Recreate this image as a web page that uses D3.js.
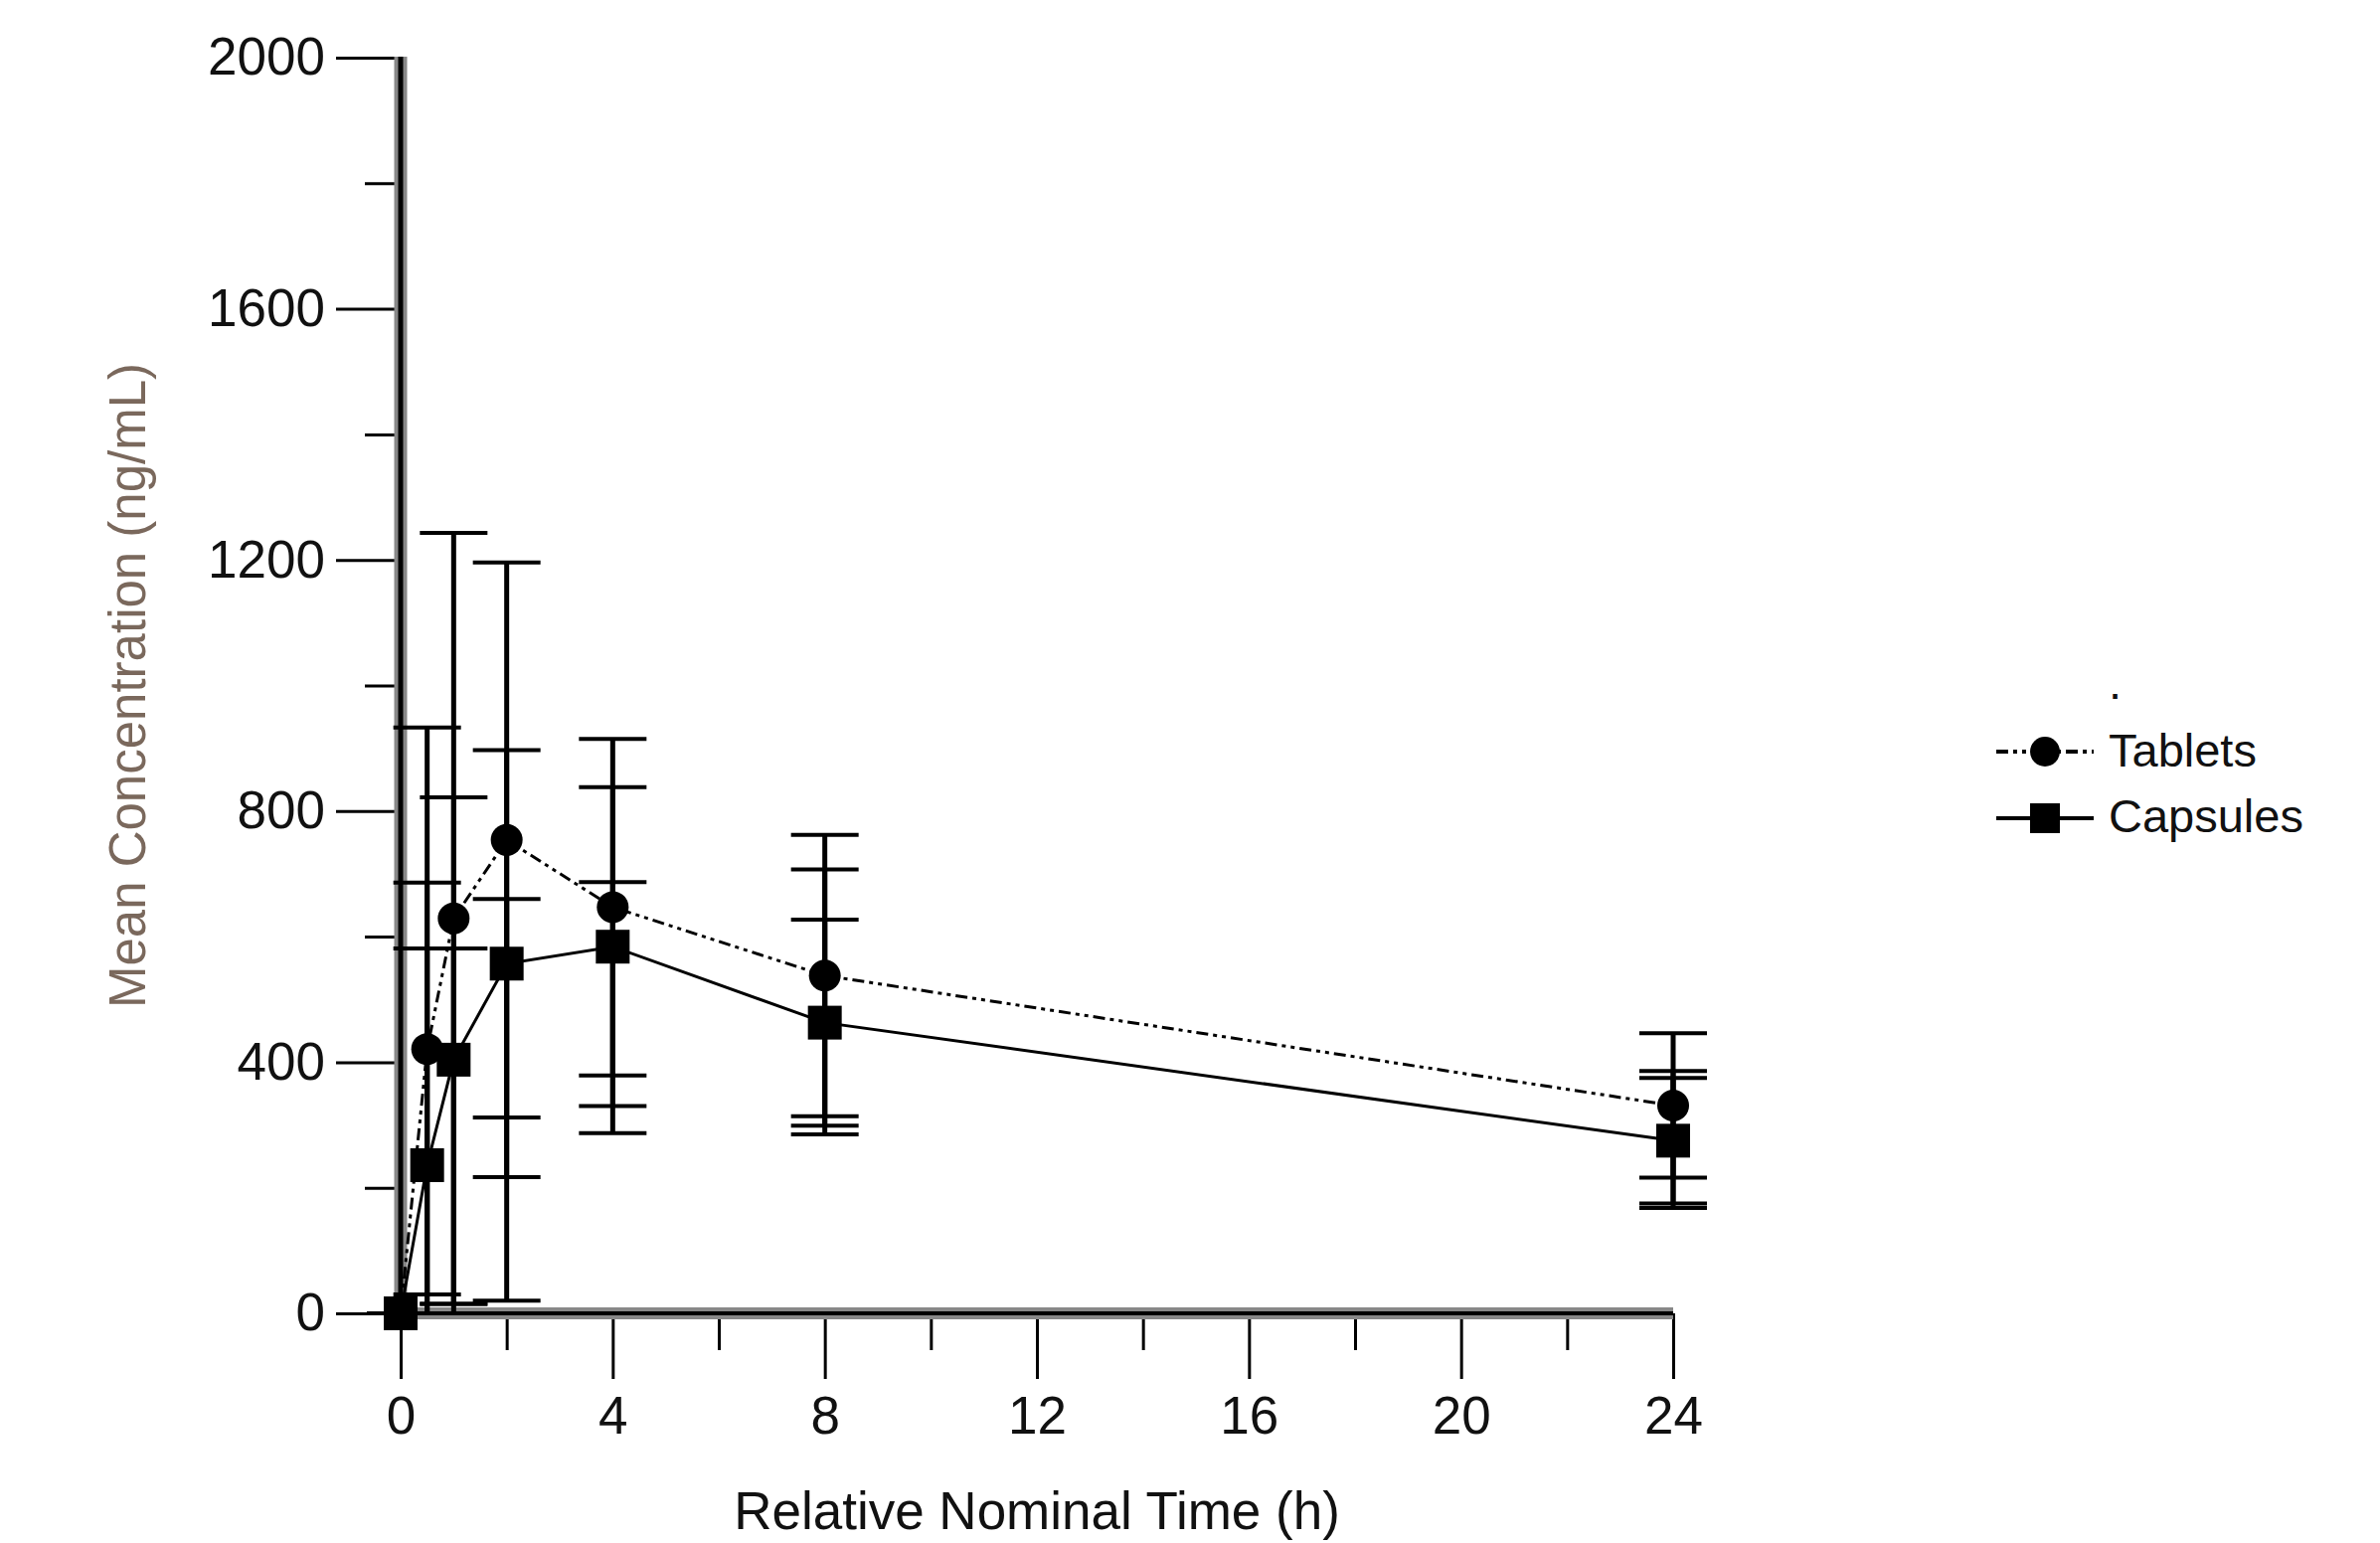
<!DOCTYPE html>
<html>
<head>
<meta charset="utf-8">
<script src="https://cdn.jsdelivr.net/npm/d3@7"></script>
<style>
  body { margin: 0; background: #fff; }
  text { font-family: "Liberation Sans", Arial, sans-serif; }
</style>
</head>
<body>
<script>
var width = 2394;
var height = 1552;

// data
var times = [0, 0.5, 1, 2, 4, 8, 24];
var tabletsMean = [0, 421, 629, 754, 647, 538, 331];
var tabletsSD = [0, 512, 614, 442, 268, 224, 115];
var capsulesMean = [0, 236, 404, 557, 584, 463, 275];
var capsulesSD = [0, 345, 418, 340, 254, 164, 100];
// third group: only error bars, legend label "."
var dotMean = [0, 358, 298, 340, 487, 496, 277];
var dotSD = [0, 328, 283, 320, 200, 211, 109];

var yTicks = [0, 400, 800, 1200, 1600, 2000];
var yMinorTicks = [200, 600, 1000, 1400, 1800];
var xTicks = [0, 4, 8, 12, 16, 20, 24];
var xMinorTicks = [2, 6, 10, 14, 18, 22];

var legendLabels = [".", "Tablets", "Capsules"];

var svg = d3.select("body").append("svg")
    .attr("width", width)
    .attr("height", height);
svg.append("rect").attr("width", width).attr("height", height).attr("fill", "#fff");

var xScale = d3.scaleLinear().domain([0, 24]).range([403, 1683]);
var yScale = d3.scaleLinear().domain([0, 2000]).range([1321, 58]);

// y axis: major ticks with labels + minor ticks
var yAxisG = svg.append("g").attr("transform", "translate(" + xScale(0) + ",0)");
yAxisG.call(d3.axisLeft(yScale).tickValues(yTicks).tickSize(65).tickPadding(11).tickFormat(d3.format("d")));
var yMinorG = svg.append("g").attr("transform", "translate(" + xScale(0) + ",0)");
yMinorG.call(d3.axisLeft(yScale).tickValues(yMinorTicks).tickSize(36).tickFormat(""));

// x axis
var xAxisG = svg.append("g").attr("transform", "translate(0," + yScale(0) + ")");
xAxisG.call(d3.axisBottom(xScale).tickValues(xTicks).tickSize(66).tickPadding(17).tickFormat(d3.format("d")));
var xMinorG = svg.append("g").attr("transform", "translate(0," + yScale(0) + ")");
xMinorG.call(d3.axisBottom(xScale).tickValues(xMinorTicks).tickSize(37).tickFormat(""));

svg.selectAll(".domain").remove();
svg.selectAll(".tick line").attr("stroke", "#000").attr("stroke-width", 3);
svg.selectAll(".tick text")
    .attr("fill", "#111")
    .style("font-size", "53px")
    .style("font-family", "'Liberation Sans', Arial, sans-serif");

// axis lines: gray band with black core
svg.append("line")
    .attr("x1", xScale(0)).attr("x2", xScale(0))
    .attr("y1", yScale(2000) - 1).attr("y2", yScale(0) + 7)
    .attr("stroke", "#888").attr("stroke-width", 13);
svg.append("line")
    .attr("x1", xScale(0)).attr("x2", xScale(24))
    .attr("y1", yScale(0)).attr("y2", yScale(0))
    .attr("stroke", "#888").attr("stroke-width", 12);
svg.append("line")
    .attr("x1", xScale(0)).attr("x2", xScale(0))
    .attr("y1", yScale(2000) - 1).attr("y2", yScale(0))
    .attr("stroke", "#000").attr("stroke-width", 5);
svg.append("line")
    .attr("x1", xScale(0)).attr("x2", xScale(24))
    .attr("y1", yScale(0)).attr("y2", yScale(0))
    .attr("stroke", "#000").attr("stroke-width", 4);

// axis titles
svg.append("text")
    .attr("x", (xScale(0) + xScale(24)) / 2)
    .attr("y", 1538)
    .attr("text-anchor", "middle")
    .attr("fill", "#111")
    .style("font-size", "53px")
    .text("Relative Nominal Time (h)");

svg.append("text")
    .attr("transform", "translate(146," + (yScale(0) + yScale(2000)) / 2 + ") rotate(-90)")
    .attr("text-anchor", "middle")
    .attr("fill", "#7a685c")
    .style("font-size", "51px")
    .text("Mean Concentration (ng/mL)");

// error bars
function drawErrors(means, sds) {
    var g = svg.append("g");
    times.forEach(function (t, i) {
        var hi = means[i] + sds[i];
        var lo = means[i] - sds[i];
        var x = xScale(t);
        g.append("line")
            .attr("x1", x).attr("x2", x)
            .attr("y1", yScale(hi)).attr("y2", yScale(Math.max(lo, 0)))
            .attr("stroke", "#000").attr("stroke-width", 5);
        g.append("line")
            .attr("x1", x - 34).attr("x2", x + 34)
            .attr("y1", yScale(hi)).attr("y2", yScale(hi))
            .attr("stroke", "#000").attr("stroke-width", 4);
        if (lo >= 0) {
            g.append("line")
                .attr("x1", x - 34).attr("x2", x + 34)
                .attr("y1", yScale(lo)).attr("y2", yScale(lo))
                .attr("stroke", "#000").attr("stroke-width", 4);
        }
    });
}
drawErrors(dotMean, dotSD);
drawErrors(tabletsMean, tabletsSD);
drawErrors(capsulesMean, capsulesSD);

// lines
var line = d3.line()
    .x(function (d) { return xScale(d[0]); })
    .y(function (d) { return yScale(d[1]); });

var tabletsPts = d3.zip(times, tabletsMean);
var capsulesPts = d3.zip(times, capsulesMean);

svg.append("path")
    .datum(tabletsPts)
    .attr("d", line)
    .attr("fill", "none")
    .attr("stroke", "#000")
    .attr("stroke-width", 3)
    .attr("stroke-dasharray", "12,5,4,5,4,5");

svg.append("path")
    .datum(capsulesPts)
    .attr("d", line)
    .attr("fill", "none")
    .attr("stroke", "#000")
    .attr("stroke-width", 3);

// markers
svg.append("g").selectAll("circle")
    .data(tabletsPts)
    .join("circle")
    .attr("cx", function (d) { return xScale(d[0]); })
    .attr("cy", function (d) { return yScale(d[1]); })
    .attr("r", 16)
    .attr("fill", "#000");

svg.append("g").selectAll("rect")
    .data(capsulesPts)
    .join("rect")
    .attr("x", function (d) { return xScale(d[0]) - 17; })
    .attr("y", function (d) { return yScale(d[1]) - 17; })
    .attr("width", 34)
    .attr("height", 34)
    .attr("fill", "#000");

// legend
var legend = svg.append("g").attr("transform", "translate(2008,0)");
var legendBaselines = [703, 771, 837];
legendLabels.forEach(function (lab, i) {
    legend.append("text")
        .attr("x", 113)
        .attr("y", legendBaselines[i])
        .attr("fill", "#111")
        .style("font-size", "47px")
        .text(lab);
});
// Tablets symbol
legend.append("line")
    .attr("x1", 0).attr("x2", 98).attr("y1", 756).attr("y2", 756)
    .attr("stroke", "#000").attr("stroke-width", 4)
    .attr("stroke-dasharray", "12,5,4,5,4,5");
legend.append("circle").attr("cx", 49).attr("cy", 756).attr("r", 15).attr("fill", "#000");
// Capsules symbol
legend.append("line")
    .attr("x1", 0).attr("x2", 98).attr("y1", 823).attr("y2", 823)
    .attr("stroke", "#000").attr("stroke-width", 4);
legend.append("rect").attr("x", 34).attr("y", 808).attr("width", 30).attr("height", 30).attr("fill", "#000");
</script>
</body>
</html>
